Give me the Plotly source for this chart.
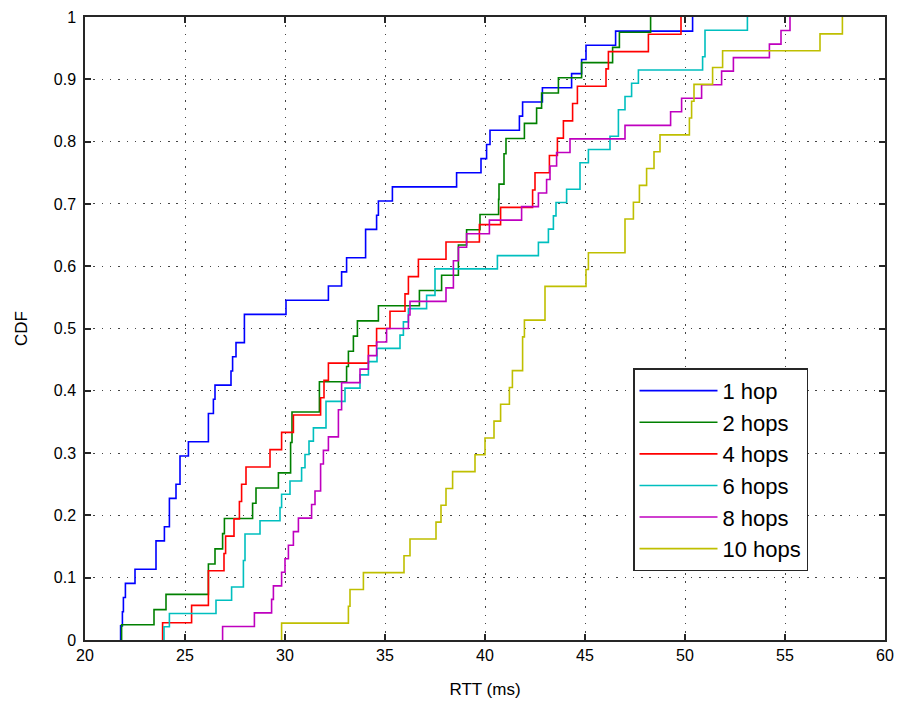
import plotly.graph_objects as go

# Sorted RTT samples (ms) for each hop count; the CDF is k/N at each sample.
rtt_1hop = [21.78, 21.87, 21.92, 22.02, 22.5, 23.55, 23.55, 23.97, 24.22, 24.22,
            24.55, 24.75, 24.75, 25.17, 26.17, 26.17, 26.42, 26.5, 27.3, 27.38,
            27.55, 27.97, 27.97, 30.05, 32.17, 32.83, 33.08, 34.03, 34.03, 34.58,
            34.67, 35.37, 38.58, 39.8, 40.08, 40.25, 41.72, 41.88, 42.87, 44.33,
            44.83, 45.05, 46.53, 50.38]
rtt_2hops = [21.83, 23.45, 24.05, 26.17, 26.17, 26.5, 26.88, 26.97, 28.38, 28.55,
             29.67, 30.28, 30.28, 30.35, 30.35, 31.72, 31.72, 33.08, 33.17, 33.42,
             33.62, 34.67, 36.72, 37.83, 38.67, 38.67, 39.08, 39.75, 40.68, 40.7,
             40.95, 40.95, 41.05, 41.97, 42.58, 42.83, 43.67, 44.83, 46.38, 46.72,
             48.28]
rtt_4hops = [23.88, 25.33, 26.17, 26.17, 26.95, 27.03, 27.45, 27.72, 27.83, 28.05,
             29.25, 29.83, 30.42, 31.78, 31.95, 32.17, 34.17, 34.58, 35.25, 36.0,
             36.17, 36.67, 38.05, 39.72, 40.78, 42.38, 42.5, 43.22, 43.62, 43.92,
             44.38, 44.62, 46.05, 46.17, 48.17, 49.8]
rtt_6hops = [23.95, 24.22, 26.55, 27.33, 27.92, 27.92, 28.0, 28.0, 28.75, 29.75,
             29.83, 30.25, 30.83, 31.0, 31.2, 31.42, 32.05, 32.05, 33.0, 33.75,
             34.17, 34.6, 35.75, 35.92, 36.17, 37.08, 37.5, 37.5, 40.62, 42.67,
             43.17, 43.42, 43.55, 44.08, 44.75, 44.75, 45.17, 46.25, 46.67, 46.67,
             47.0, 47.33, 47.67, 50.88, 51.0, 51.0, 53.12]
rtt_8hops = [26.88, 28.47, 29.33, 29.42, 29.83, 30.0, 30.17, 30.42, 30.67, 31.33,
             31.5, 31.78, 31.78, 31.92, 32.17, 32.67, 32.67, 32.83, 32.83, 33.75,
             34.17, 34.58, 35.08, 36.17, 36.25, 38.05, 38.42, 38.42, 38.67, 39.08,
             40.22, 41.83, 42.67, 43.08, 43.25, 43.58, 44.25, 47.0, 49.28, 49.83,
             50.83, 51.83, 52.42, 54.22, 54.8, 55.25]
rtt_10hops = [29.83, 33.17, 33.25, 33.92, 35.95, 36.25, 37.55, 37.8, 38.05, 38.38,
              39.5, 40.0, 40.45, 40.78, 41.22, 41.37, 41.88, 41.88, 41.97, 43.0,
              43.0, 45.05, 45.17, 47.0, 47.0, 47.42, 47.72, 48.08, 48.45, 48.75,
              50.22, 50.33, 50.45, 51.38, 51.88, 56.75, 57.87]

series_names = ["1 hop", "2 hops", "4 hops", "6 hops", "8 hops", "10 hops"]
series_data = [rtt_1hop, rtt_2hops, rtt_4hops, rtt_6hops, rtt_8hops, rtt_10hops]
series_colors = ["#0000ff", "#008000", "#ff0000", "#00bfbf", "#bf00bf", "#bfbf00"]

x_ticks = [20, 25, 30, 35, 40, 45, 50, 55, 60]
y_ticks = [0, 0.1, 0.2, 0.3, 0.4, 0.5, 0.6, 0.7, 0.8, 0.9, 1]

fig = go.Figure()
for name, samples, color in zip(series_names, series_data, series_colors):
    s = sorted(samples)
    n = len(s)
    xs = [s[0]] + s
    ys = [0.0] + [(k + 1) / n for k in range(n)]
    fig.add_trace(go.Scatter(
        x=xs, y=ys, mode="lines", name=name, legendgroup=name,
        line=dict(color=color, width=1.6, shape="hv"),
    ))

axis_color = "#262626"
tick_font = dict(family="Liberation Sans, Arial", size=16, color="#000000")
title_font = dict(family="Liberation Sans, Arial", size=17, color="#000000")

fig.update_xaxes(
    range=[20, 60], tickvals=x_ticks, ticktext=[str(v) for v in x_ticks],
    ticks="inside", ticklen=6, tickwidth=1.5, tickcolor=axis_color,
    showline=True, linecolor=axis_color, linewidth=1.5, mirror="allticks",
    showgrid=True, gridcolor="#444444", gridwidth=1, griddash="1.5px,6.8px",
    zeroline=False, tickfont=tick_font, automargin=False,
    title=dict(text="RTT (ms)", font=title_font, standoff=20),
)
fig.update_yaxes(
    range=[0, 1], tickvals=y_ticks, ticktext=["0"] + [f"{v:g}" for v in y_ticks[1:]],
    ticks="inside", ticklen=6, tickwidth=1.5, tickcolor=axis_color,
    showline=True, linecolor=axis_color, linewidth=1.5, mirror="allticks",
    showgrid=True, gridcolor="#444444", gridwidth=1, griddash="1.5px,6.8px",
    zeroline=False, tickfont=tick_font, ticklabelstandoff=4, automargin=False,
    title=dict(text="CDF", font=title_font, standoff=22),
)

fig.update_layout(
    width=898, height=705,
    margin=dict(l=85, r=13, t=17, b=65),
    plot_bgcolor="white", paper_bgcolor="white",
    legend=dict(
        x=0.685, y=0.436, xanchor="left", yanchor="top",
        bgcolor="white", bordercolor=axis_color, borderwidth=1.5,
        font=dict(family="Liberation Sans, Arial", size=22, color="#000000"),
        itemwidth=78, tracegroupgap=3, traceorder="normal",
    ),
)

fig.write_html("out.html")
